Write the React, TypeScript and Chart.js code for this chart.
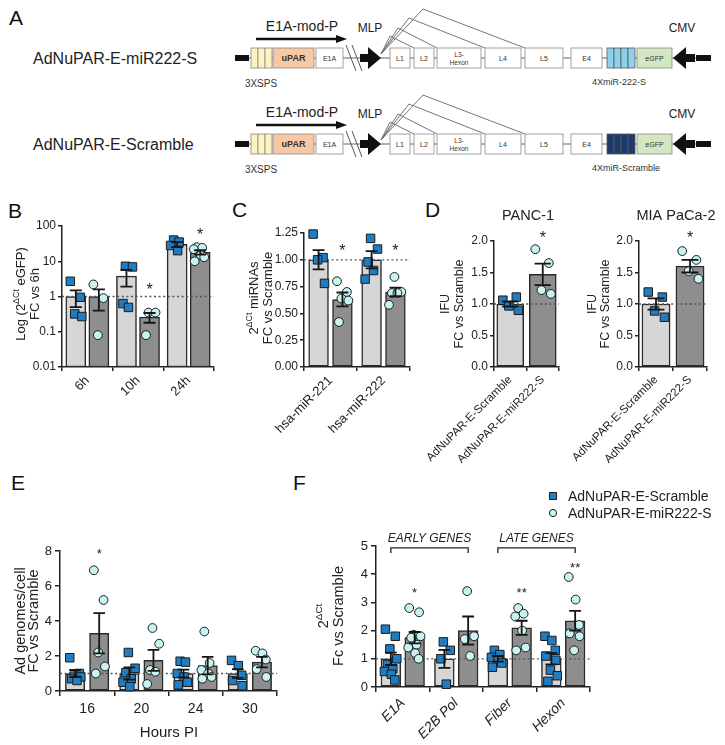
import React, { useEffect, useRef } from 'react';
import { Chart, registerables } from 'chart.js';

Chart.register(...registerables);

const FONT = "'Liberation Sans', Arial, Helvetica, sans-serif";
const INK = '#222222';
const LIGHT = '#d6d6d6';
const DARK = '#8e8e8e';
const EDGE = '#2a2a2a';
const BLUE = '#1f7dc3';
const CYAN = '#c8f3f3';
const MARK_EDGE = '#1b1b1b';

// ---------------- Panel B ----------------
const B_CATEGORIES = ['6h', '10h', '24h'];
const B_SCRAMBLE_MEAN = [1.0, 3.8, 30];
const B_SCRAMBLE_SEM = [0.5, 1.9, 5];
const B_MIR_MEAN = [1.0, 0.26, 18];
const B_MIR_SEM = [0.6, 0.08, 2.5];
const B_SCRAMBLE_POINTS = [[2.7, 0.95, 0.32, 0.27], [7.2, 6.9, 0.63, 0.49], [40, 35, 28, 20]];
const B_MIR_POINTS = [[2.2, 0.9, 0.08], [0.35, 0.35, 0.08], [25, 24, 22, 15, 13, 10]];
const B_Y_TICKS = [0.01, 0.1, 1, 10, 100];
const B_Y_LABELS = ['0.01', '0.1', '1', '10', '100'];

// ---------------- Panel C ----------------
const C_CATEGORIES = ['hsa-miR-221', 'hsa-miR-222'];
const C_SCRAMBLE_MEAN = [1.0, 1.0];
const C_SCRAMBLE_SEM = [0.09, 0.08];
const C_MIR_MEAN = [0.63, 0.7];
const C_MIR_SEM = [0.065, 0.04];
const C_SCRAMBLE_POINTS = [[1.24, 1.02, 1.0, 0.78], [1.2, 1.1, 0.98, 0.9, 0.82]];
const C_MIR_POINTS = [[0.8, 0.7, 0.64, 0.62, 0.42], [0.84, 0.7, 0.69, 0.69, 0.58]];
const C_Y_TICKS = [0, 0.25, 0.5, 0.75, 1.0, 1.25];
const C_Y_LABELS = ['0.00', '0.25', '0.50', '0.75', '1.00', '1.25'];

// ---------------- Panel D ----------------
const D_CATEGORIES = ['AdNuPAR-E-Scramble', 'AdNuPAR-E-miR222-S'];
const D_PANC_MEAN = [1.0, 1.47];
const D_PANC_SEM = [0.04, 0.17];
const D_PANC_SCRAMBLE_POINTS = [1.06, 1.11, 0.97, 0.9];
const D_PANC_MIR_POINTS = [1.87, 1.65, 1.22, 1.16];
const D_MIA_MEAN = [1.0, 1.6];
const D_MIA_SEM = [0.09, 0.1];
const D_MIA_SCRAMBLE_POINTS = [1.19, 1.11, 0.89, 0.79];
const D_MIA_MIR_POINTS = [1.84, 1.7, 1.52, 1.4];
const D_Y_TICKS = [0, 0.5, 1, 1.5, 2];
const D_Y_LABELS = ['0.0', '0.5', '1.0', '1.5', '2.0'];

// ---------------- Panel E ----------------
const E_CATEGORIES = ['16', '20', '24', '30'];
const E_SCRAMBLE_MEAN = [1.0, 1.0, 1.0, 1.0];
const E_SCRAMBLE_SEM = [0.2, 0.35, 0.22, 0.25];
const E_MIR_MEAN = [3.3, 1.75, 1.45, 1.65];
const E_MIR_SEM = [1.15, 0.6, 0.5, 0.3];
const E_SCRAMBLE_POINTS = [
  [1.9, 1.0, 0.85, 0.8, 0.7, 0.6],
  [2.2, 1.3, 1.05, 0.7, 0.5, 0.25],
  [1.7, 1.65, 1.0, 0.8, 0.5, 0.35],
  [1.75, 1.45, 0.9, 0.6, 0.3],
];
const E_MIR_POINTS = [
  [6.9, 5.2, 2.2, 1.4, 1.0],
  [3.6, 2.7, 1.2, 1.1, 0.4],
  [3.4, 1.6, 1.2, 1.0, 0.8, 0.7],
  [2.3, 2.15, 1.8, 1.25, 0.8],
];
const E_Y_TICKS = [0, 2, 4, 6, 8];
const E_Y_LABELS = ['0', '2', '4', '6', '8'];

// ---------------- Panel F ----------------
const F_CATEGORIES = ['E1A', 'E2B Pol', 'Fiber', 'Hexon'];
const F_SCRAMBLE_MEAN = [1.0, 1.0, 1.0, 1.0];
const F_SCRAMBLE_SEM = [0.22, 0.32, 0.1, 0.2];
const F_MIR_MEAN = [1.75, 2.0, 2.1, 2.35];
const F_MIR_SEM = [0.2, 0.5, 0.25, 0.35];
const F_SCRAMBLE_POINTS = [
  [2.05, 1.8, 1.35, 1.0, 0.8, 0.65, 0.55, 0.45, 0.25],
  [1.6, 1.3, 1.0, 0.1],
  [1.3, 1.15, 1.05, 0.95, 0.85, 0.7],
  [1.8, 1.65, 1.3, 1.1, 0.95, 0.6, 0.4, 0.2],
];
const F_MIR_POINTS = [
  [2.8, 2.65, 1.85, 1.8, 1.75, 1.5, 1.4, 1.2, 1.0],
  [3.4, 1.8, 1.7, 1.1],
  [2.8, 2.6, 2.5, 2.0, 1.4, 1.3],
  [3.9, 3.1, 2.2, 1.9, 1.8, 1.3],
];
const F_Y_TICKS = [0, 1, 2, 3, 4, 5];
const F_Y_LABELS = ['0', '1', '2', '3', '4', '5'];
const F_LEGEND = ['AdNuPAR-E-Scramble', 'AdNuPAR-E-miR222-S'];

// horizontal spread of the dots inside a bar (fraction of half bar width)
const JIT = [-0.55, 0.45, -0.1, 0.6, -0.35, 0.2, -0.65, 0.05, 0.4];

type Seg = { t: string; sup?: boolean };
type PanelSpec = {
  box: [number, number, number, number];
  plot: [number, number, number, number];
  cats: string[];
  log?: boolean;
  yMin: number;
  yMax: number;
  yTicks: number[];
  yLabels: string[];
  yFont: number;
  yPad: number;
  tickLen: number;
  xFont: number;
  xItalic?: boolean;
  xRot: number;
  xPad: number;
  bars: { data: number[]; sem: number[]; color: string | string[] }[];
  catPct: number;
  barPct: number;
  sq: { at: number; vals: number[] }[];
  ci: { at: number; vals: number[] }[];
  ref?: number;
  stars: { at: number; y: number; t: string }[];
  starSize: number;
  ytitle: { x: number; segs: Seg[] }[];
  ytFont: number;
  ytCenter: number;
  texts?: { x: number; y: number; t: string; size: number; italic?: boolean; align?: CanvasTextAlign }[];
  brackets?: { x0: number; x1: number; yTop: number; yLeg: number; yText: number; label: string }[];
  legend?: { x: number; y: number[]; items: string[] };
};

const G = 0.89;

const SPEC_B: PanelSpec = {
  box: [0, 195, 225, 230],
  plot: [62, 226, 214, 367],
  cats: B_CATEGORIES,
  log: true,
  yMin: 0.01,
  yMax: 100,
  yTicks: B_Y_TICKS,
  yLabels: B_Y_LABELS,
  yFont: 12,
  yPad: 2,
  tickLen: 4,
  xFont: 13,
  xRot: 45,
  xPad: 2,
  bars: [
    { data: B_SCRAMBLE_MEAN, sem: B_SCRAMBLE_SEM, color: LIGHT },
    { data: B_MIR_MEAN, sem: B_MIR_SEM, color: DARK },
  ],
  catPct: 0.91,
  barPct: 0.87,
  sq: B_SCRAMBLE_POINTS.map((vals, i) => ({ at: i - 0.91 / 4, vals })),
  ci: B_MIR_POINTS.map((vals, i) => ({ at: i + 0.91 / 4, vals })),
  ref: 1,
  stars: [
    { at: 1 + 0.91 / 4, y: 2.0, t: '*' },
    { at: 2 + 0.91 / 4, y: 72, t: '*' },
  ],
  starSize: 16,
  ytitle: [
    { x: 20, segs: [{ t: 'Log (2' }, { t: 'ΔCt', sup: true }, { t: ' eGFP)' }] },
    { x: 34, segs: [{ t: 'FC vs 6h' }] },
  ],
  ytFont: 13,
  ytCenter: 294,
};

const SPEC_C: PanelSpec = {
  box: [225, 195, 195, 255],
  plot: [304, 233, 410, 367],
  cats: C_CATEGORIES,
  yMin: 0,
  yMax: 1.25,
  yTicks: C_Y_TICKS,
  yLabels: C_Y_LABELS,
  yFont: 12,
  yPad: 2,
  tickLen: 4,
  xFont: 13,
  xRot: 45,
  xPad: 2,
  bars: [
    { data: C_SCRAMBLE_MEAN, sem: C_SCRAMBLE_SEM, color: LIGHT },
    { data: C_MIR_MEAN, sem: C_MIR_SEM, color: DARK },
  ],
  catPct: 0.9,
  barPct: 0.83,
  sq: C_SCRAMBLE_POINTS.map((vals, i) => ({ at: i - 0.9 / 4, vals })),
  ci: C_MIR_POINTS.map((vals, i) => ({ at: i + 0.9 / 4, vals })),
  ref: 1,
  stars: [
    { at: 0 + 0.9 / 4, y: 1.12, t: '*' },
    { at: 1 + 0.9 / 4, y: 1.12, t: '*' },
  ],
  starSize: 16,
  ytitle: [
    { x: 253, segs: [{ t: '2' }, { t: 'ΔCt', sup: true }, { t: ' miRNAs' }] },
    { x: 267, segs: [{ t: 'FC vs Scramble' }] },
  ],
  ytFont: 13,
  ytCenter: 298,
};

function dSpec(
  left: number,
  width: number,
  plot: [number, number, number, number],
  mean: number[],
  sem: number[],
  sPts: number[],
  mPts: number[],
  title: string,
  titleX: number,
  tx1: number,
  tx2: number,
): PanelSpec {
  return {
    box: [left, 195, width, 280],
    plot,
    cats: D_CATEGORIES,
    yMin: 0,
    yMax: 2,
    yTicks: D_Y_TICKS,
    yLabels: D_Y_LABELS,
    yFont: 12,
    yPad: 2,
    tickLen: 4,
    xFont: 11.5,
    xRot: 45,
    xPad: 2,
    bars: [{ data: mean, sem, color: [LIGHT, DARK] }],
    catPct: 1,
    barPct: 0.83,
    sq: [{ at: 0, vals: sPts }],
    ci: [{ at: 1, vals: mPts }],
    ref: 1,
    stars: [{ at: 1, y: 2.11, t: '*' }],
    starSize: 16,
    ytitle: [
      { x: tx1, segs: [{ t: 'IFU' }] },
      { x: tx2, segs: [{ t: 'FC vs Scramble' }] },
    ],
    ytFont: 12.5,
    ytCenter: 304,
    texts: [{ x: titleX, y: 220, t: title, size: 14.5, align: 'center' }],
  };
}

const SPEC_D1 = dSpec(420, 150, [494, 241, 559, 367], D_PANC_MEAN, D_PANC_SEM, D_PANC_SCRAMBLE_POINTS, D_PANC_MIR_POINTS, 'PANC-1', 528, 444, 458);
const SPEC_D2 = dSpec(570, 155, [639, 241, 707, 367], D_MIA_MEAN, D_MIA_SEM, D_MIA_SCRAMBLE_POINTS, D_MIA_MIR_POINTS, 'MIA PaCa-2', 676, 591, 604);

const SPEC_E: PanelSpec = {
  box: [0, 465, 290, 280],
  plot: [60, 551, 277, 691],
  cats: E_CATEGORIES,
  yMin: 0,
  yMax: 8,
  yTicks: E_Y_TICKS,
  yLabels: E_Y_LABELS,
  yFont: 13,
  yPad: 3,
  tickLen: 5,
  xFont: 14,
  xRot: 0,
  xPad: 5,
  bars: [
    { data: E_SCRAMBLE_MEAN, sem: E_SCRAMBLE_SEM, color: LIGHT },
    { data: E_MIR_MEAN, sem: E_MIR_SEM, color: DARK },
  ],
  catPct: G,
  barPct: 0.8,
  sq: E_SCRAMBLE_POINTS.map((vals, i) => ({ at: i - G / 4, vals })),
  ci: E_MIR_POINTS.map((vals, i) => ({ at: i + G / 4, vals })),
  ref: 1,
  stars: [{ at: 0 + G / 4, y: 8.0, t: '*' }],
  starSize: 13,
  ytitle: [
    { x: 19.5, segs: [{ t: 'Ad genomes/cell' }] },
    { x: 33, segs: [{ t: 'FC vs Scramble' }] },
  ],
  ytFont: 14.5,
  ytCenter: 621,
  texts: [{ x: 169, y: 737, t: 'Hours PI', size: 15, align: 'center' }],
};

const SPEC_F: PanelSpec = {
  box: [290, 465, 435, 280],
  plot: [376, 546, 590, 687],
  cats: F_CATEGORIES,
  yMin: 0,
  yMax: 5,
  yTicks: F_Y_TICKS,
  yLabels: F_Y_LABELS,
  yFont: 13,
  yPad: 3,
  tickLen: 5,
  xFont: 14,
  xItalic: true,
  xRot: 45,
  xPad: 3,
  bars: [
    { data: F_SCRAMBLE_MEAN, sem: F_SCRAMBLE_SEM, color: LIGHT },
    { data: F_MIR_MEAN, sem: F_MIR_SEM, color: DARK },
  ],
  catPct: G,
  barPct: 0.83,
  sq: F_SCRAMBLE_POINTS.map((vals, i) => ({ at: i - G / 4, vals })),
  ci: F_MIR_POINTS.map((vals, i) => ({ at: i + G / 4, vals })),
  ref: 1,
  stars: [
    { at: 0 + G / 4, y: 3.44, t: '*' },
    { at: 2 + G / 4, y: 3.44, t: '**' },
    { at: 3 + G / 4, y: 4.36, t: '**' },
  ],
  starSize: 13,
  ytitle: [
    { x: 323, segs: [{ t: '2' }, { t: 'ΔCt', sup: true }] },
    { x: 338, segs: [{ t: 'Fc vs Scramble' }] },
  ],
  ytFont: 14.5,
  ytCenter: 616,
  brackets: [
    { x0: 0 - G / 4, x1: 1 + G / 4, yTop: 4.93, yLeg: 4.75, yText: 5.14, label: 'EARLY GENES' },
    { x0: 2 - G / 4, x1: 3 + G / 4, yTop: 4.93, yLeg: 4.75, yText: 5.14, label: 'LATE GENES' },
  ],
  legend: { x: 553, y: [496, 513], items: F_LEGEND },
};

function fnt(size: number, italic?: boolean, bold?: boolean) {
  return `${italic ? 'italic ' : ''}${bold ? 'bold ' : ''}${size}px ${FONT}`;
}

function buildChart(canvas: HTMLCanvasElement, p: PanelSpec) {
  const [bl, bt, bw, bh] = p.box;
  const [pl, pt, pr, pb] = p.plot;
  const YW = pl - bl;
  const XH = bt + bh - pb;
  const padding = { left: 0, top: pt - bt, right: bl + bw - pr, bottom: 0 };
  const n = p.cats.length;
  const nb = p.bars.length;
  const halfW = (p.catPct * p.barPct) / (2 * nb);
  const thickness = ((p.catPct * p.barPct) / nb) * ((pr - pl) / n);
  const offs = nb === 2 ? [-p.catPct / 4, p.catPct / 4] : [0];
  const spread = (groups: { at: number; vals: number[] }[]) => {
    const out: { x: number; y: number }[] = [];
    groups.forEach((g, k) =>
      g.vals.forEach((v, j) => out.push({ x: g.at + JIT[(j + 2 * k) % JIT.length] * halfW, y: v })),
    );
    return out;
  };

  const axisGrid = {
    display: true,
    drawOnChartArea: false,
    drawTicks: true,
    tickLength: p.tickLen,
    color: INK,
    lineWidth: 1.5,
  };
  const axisBorder = { display: true, color: INK, width: 1.5 };

  const datasets: any[] = [
    ...p.bars.map((b, k) => ({
      type: 'bar',
      data: b.data.map((v, i) => ({ x: i + offs[k], y: v })),
      backgroundColor: b.color,
      borderColor: EDGE,
      borderWidth: 1.5,
      borderSkipped: false,
      grouped: false,
      barThickness: thickness,
      order: 2,
    })),
    {
      type: 'scatter',
      data: spread(p.sq),
      pointStyle: 'rect',
      pointRadius: 6,
      backgroundColor: BLUE,
      borderColor: MARK_EDGE,
      borderWidth: 1,
      order: 1,
      clip: false,
    },
    {
      type: 'scatter',
      data: spread(p.ci),
      pointStyle: 'circle',
      pointRadius: 4.4,
      backgroundColor: CYAN,
      borderColor: MARK_EDGE,
      borderWidth: 1,
      order: 1,
      clip: false,
    },
  ];

  const deco = {
    id: 'deco',
    afterDatasetDraw(chart: any, args: any) {
      if (args.index === 0 && p.ref != null) {
        const { ctx, chartArea: a } = chart;
        const y = chart.scales.y.getPixelForValue(p.ref);
        ctx.save();
        ctx.setLineDash([2, 2.6]);
        ctx.strokeStyle = '#555';
        ctx.lineWidth = 1.3;
        ctx.beginPath();
        ctx.moveTo(a.left, y);
        ctx.lineTo(a.right, y);
        ctx.stroke();
        ctx.restore();
      }
    },
    afterDatasetsDraw(chart: any) {
      const ctx: CanvasRenderingContext2D = chart.ctx;
      const ys = chart.scales.y;
      const xs = chart.scales.x;
      ctx.save();
      // error bars (mean ± SEM)
      ctx.strokeStyle = '#151515';
      ctx.lineWidth = 1.8;
      p.bars.forEach((b, i) => {
        const meta = chart.getDatasetMeta(i);
        meta.data.forEach((el: any, j: number) => {
          const m = b.data[j];
          const s = b.sem[j];
          const yT = ys.getPixelForValue(m + s);
          const yB = ys.getPixelForValue(Math.max(m - s, ys.min));
          const hw = el.width * 0.3;
          ctx.beginPath();
          ctx.moveTo(el.x, yT);
          ctx.lineTo(el.x, yB);
          ctx.moveTo(el.x - hw, yT);
          ctx.lineTo(el.x + hw, yT);
          ctx.moveTo(el.x - hw, yB);
          ctx.lineTo(el.x + hw, yB);
          ctx.stroke();
        });
      });
      // significance stars
      ctx.fillStyle = INK;
      ctx.font = fnt(p.starSize);
      ctx.textAlign = 'center';
      ctx.textBaseline = 'alphabetic';
      p.stars.forEach((s) => {
        ctx.fillText(s.t, xs.getPixelForValue(s.at), ys.getPixelForValue(s.y) + 0.575 * p.starSize);
      });
      // y titles (rotated, with superscripts)
      p.ytitle.forEach((line) => {
        const size = p.ytFont;
        ctx.save();
        ctx.translate(line.x - bl, p.ytCenter - bt);
        ctx.rotate(-Math.PI / 2);
        const parts = line.segs.map((sg) => {
          const fs = sg.sup ? size * 0.68 : size;
          ctx.font = fnt(fs);
          return { sg, fs, w: ctx.measureText(sg.t).width };
        });
        const tot = parts.reduce((a, q) => a + q.w, 0);
        let cx = -tot / 2;
        ctx.textAlign = 'left';
        for (const q of parts) {
          ctx.font = fnt(q.fs);
          ctx.fillText(q.sg.t, cx, size * 0.36 + (q.sg.sup ? -size * 0.42 : 0));
          cx += q.w;
        }
        ctx.restore();
      });
      // free texts
      (p.texts || []).forEach((t) => {
        ctx.font = fnt(t.size, t.italic);
        ctx.textAlign = t.align || 'left';
        ctx.fillText(t.t, t.x - bl, t.y - bt);
      });
      // brackets
      (p.brackets || []).forEach((br) => {
        const x0 = xs.getPixelForValue(br.x0);
        const x1 = xs.getPixelForValue(br.x1);
        const yT = ys.getPixelForValue(br.yTop);
        const yL = ys.getPixelForValue(br.yLeg);
        ctx.strokeStyle = INK;
        ctx.lineWidth = 1.3;
        ctx.beginPath();
        ctx.moveTo(x0, yL);
        ctx.lineTo(x0, yT);
        ctx.lineTo(x1, yT);
        ctx.lineTo(x1, yL);
        ctx.stroke();
        ctx.font = fnt(12, true);
        ctx.textAlign = 'center';
        ctx.fillText(br.label, (x0 + x1) / 2, ys.getPixelForValue(br.yText));
      });
      // legend
      if (p.legend) {
        const lg = p.legend;
        lg.items.forEach((item, k) => {
          const cx = lg.x - bl;
          const cy = lg.y[k] - bt;
          ctx.fillStyle = k === 0 ? BLUE : CYAN;
          ctx.strokeStyle = MARK_EDGE;
          ctx.lineWidth = 1;
          ctx.beginPath();
          if (k === 0) ctx.rect(cx - 3.5, cy - 3.5, 7, 7);
          else ctx.arc(cx, cy, 3.6, 0, Math.PI * 2);
          ctx.fill();
          ctx.stroke();
          ctx.fillStyle = INK;
          ctx.font = fnt(14);
          ctx.textAlign = 'left';
          ctx.fillText(item, cx + 15, cy + 5);
        });
      }
      ctx.restore();
    },
  };

  return new Chart(canvas, {
    type: 'bar',
    data: { datasets },
    options: {
      responsive: false,
      maintainAspectRatio: false,
      animation: false,
      devicePixelRatio: 1,
      events: [],
      layout: { padding, autoPadding: false } as any,
      plugins: { legend: { display: false }, tooltip: { enabled: false } },
      scales: {
        x: {
          type: 'linear',
          min: -0.5,
          max: n - 0.5,
          offset: false,
          grid: axisGrid,
          border: axisBorder,
          ticks: {
            autoSkip: false,
            minRotation: p.xRot,
            maxRotation: p.xRot,
            padding: p.xPad,
            color: INK,
            font: { size: p.xFont, style: p.xItalic ? 'italic' : 'normal', family: FONT },
            callback: (_v: any, i: number) => p.cats[i] ?? '',
          },
          afterBuildTicks: (s: any) => {
            s.ticks = p.cats.map((_c, i) => ({ value: i }));
          },
          afterFit: (s: any) => {
            s.height = XH;
            s.paddingLeft = 0;
            s.paddingRight = 0;
          },
        },
        y: {
          type: p.log ? 'logarithmic' : 'linear',
          min: p.yMin,
          max: p.yMax,
          grid: axisGrid,
          border: axisBorder,
          ticks: {
            padding: p.yPad,
            color: INK,
            font: { size: p.yFont, family: FONT },
            callback: (_v: any, i: number) => p.yLabels[i] ?? '',
          },
          afterBuildTicks: (s: any) => {
            s.ticks = p.yTicks.map((v) => ({ value: v }));
          },
          afterFit: (s: any) => {
            s.width = YW;
            s.paddingTop = 0;
            s.paddingBottom = 0;
          },
        },
      } as any,
    },
    plugins: [deco as any],
  } as any);
}

function ChartPanel({ spec }: { spec: PanelSpec }) {
  const ref = useRef<HTMLCanvasElement>(null);
  useEffect(() => {
    const ch = buildChart(ref.current as HTMLCanvasElement, spec);
    return () => ch.destroy();
  }, [spec]);
  const [l, t, w, h] = spec.box;
  return (
    <canvas
      ref={ref}
      width={w}
      height={h}
      style={{ position: 'absolute', left: l, top: t, width: w, height: h }}
    />
  );
}

// ---------------- Panel A (schematic) ----------------
const A_ROWS = [
  { cy: 58, name: 'AdNuPAR-E-miR222-S', miR: '4XmiR-222-S', miRFill: '#8fd1ec' },
  { cy: 144, name: 'AdNuPAR-E-Scramble', miR: '4XmiR-Scramble', miRFill: '#1e3a6a' },
];
const A_LATE_BOXES: [string, number, number][] = [
  ['L1', 390, 410],
  ['L2', 414, 434],
  ['L3', 437, 481],
  ['L4', 485, 521],
  ['L5', 525, 563],
  ['E4', 571, 602],
];
const A_SPLICE: [number, number, number][] = [
  [390, -22, 414],
  [398, -30, 437],
  [409, -40, 485],
  [423, -49, 525],
];

function SchemRow({ cy, name, miR, miRFill }: { cy: number; name: string; miR: string; miRFill: string }) {
  const top = cy - 10;
  const boxStroke = '#8a8a8a';
  return (
    <g>
      <text x={33} y={cy + 6} fontSize={16} fill={INK}>
        {name}
      </text>
      <text x={302} y={cy - 27} fontSize={14} textAnchor="middle" fill={INK}>
        E1A-mod-P
      </text>
      <line x1={256} y1={cy - 19} x2={338} y2={cy - 19} stroke="#111" strokeWidth={2.5} />
      <polygon points={`336,${cy - 23} 347,${cy - 19} 336,${cy - 15}`} fill="#111" />
      <text x={370} y={cy - 26} fontSize={12} textAnchor="middle" fill={INK}>
        MLP
      </text>
      <text x={682} y={cy - 26} fontSize={12} textAnchor="middle" fill={INK}>
        CMV
      </text>
      <line x1={249} y1={cy} x2={696} y2={cy} stroke="#666" strokeWidth={1} />
      {A_SPLICE.map(([ax, ay, ex], k) => (
        <polyline
          key={k}
          points={`381,${cy - 4} ${ax},${cy + ay} ${ex},${top}`}
          fill="none"
          stroke="#666"
          strokeWidth={0.9}
        />
      ))}
      <rect x={235} y={cy - 3} width={14} height={6} fill="#111" />
      {[0, 1, 2].map((k) => (
        <rect key={k} x={251 + 7 * k} y={top} width={7} height={20} fill="#fcf2c2" stroke={boxStroke} strokeWidth={0.8} />
      ))}
      <rect x={273} y={top} width={41} height={20} fill="#f8c8a2" stroke={boxStroke} strokeWidth={0.8} />
      <text x={293.5} y={cy + 3} fontSize={9} fontWeight="bold" textAnchor="middle" fill="#333">
        uPAR
      </text>
      <rect x={316} y={top} width={27} height={20} fill="#fff" stroke={boxStroke} strokeWidth={0.8} />
      <text x={329.5} y={cy + 2.5} fontSize={7} textAnchor="middle" fill="#333">
        E1A
      </text>
      <line x1={346} y1={cy - 13} x2={356} y2={cy + 13} stroke="#555" strokeWidth={1} />
      <line x1={352} y1={cy - 13} x2={362} y2={cy + 13} stroke="#555" strokeWidth={1} />
      <polygon
        points={`360,${cy - 4} 368,${cy - 4} 368,${cy - 11} 381,${cy} 368,${cy + 11} 368,${cy + 4} 360,${cy + 4}`}
        fill="#111"
      />
      {A_LATE_BOXES.map(([lab, x0, x1]) => (
        <g key={lab}>
          <rect x={x0} y={top} width={x1 - x0} height={20} fill="#fff" stroke={boxStroke} strokeWidth={0.8} />
          {lab === 'L3' ? (
            <>
              <text x={(x0 + x1) / 2} y={cy - 1} fontSize={6.5} textAnchor="middle" fill="#333">
                L3-
              </text>
              <text x={(x0 + x1) / 2} y={cy + 6.5} fontSize={6.5} textAnchor="middle" fill="#333">
                Hexon
              </text>
            </>
          ) : (
            <text x={(x0 + x1) / 2} y={cy + 2.5} fontSize={7} textAnchor="middle" fill="#333">
              {lab}
            </text>
          )}
        </g>
      ))}
      {[0, 1, 2, 3].map((k) => (
        <rect key={k} x={607 + 7 * k} y={top} width={7} height={20} fill={miRFill} stroke="#5a5a5a" strokeWidth={0.8} />
      ))}
      <rect x={637} y={top} width={35} height={20} fill="#d4e7c0" stroke={boxStroke} strokeWidth={0.8} />
      <text x={654.5} y={cy + 2.5} fontSize={7} textAnchor="middle" fill="#333">
        eGFP
      </text>
      <polygon
        points={`673,${cy} 686,${cy - 11} 686,${cy - 4} 695,${cy - 4} 695,${cy + 4} 686,${cy + 4} 686,${cy + 11}`}
        fill="#111"
      />
      <rect x={696} y={cy - 3} width={15} height={6} fill="#111" />
      <text x={261} y={cy + 29} fontSize={10} textAnchor="middle" fill="#333">
        3XSPS
      </text>
      <text x={592} y={cy + 27} fontSize={9} fill="#333">
        {miR}
      </text>
    </g>
  );
}

const LETTERS: [string, number, number][] = [
  ['A', 9, 25],
  ['B', 8, 218],
  ['C', 232, 217],
  ['D', 425, 217],
  ['E', 11, 490],
  ['F', 293, 490],
];

export default function App() {
  return (
    <div
      style={{
        position: 'absolute',
        left: 0,
        top: 0,
        width: 725,
        height: 745,
        background: '#fff',
        overflow: 'hidden',
        fontFamily: FONT,
      }}
    >
      <svg width={725} height={745} style={{ position: 'absolute', left: 0, top: 0 }} fontFamily={FONT}>
        {LETTERS.map(([t, x, y]) => (
          <text key={t} x={x} y={y} fontSize={21} fill="#111">
            {t}
          </text>
        ))}
        {A_ROWS.map((r) => (
          <SchemRow key={r.name} {...r} />
        ))}
      </svg>
      <ChartPanel spec={SPEC_B} />
      <ChartPanel spec={SPEC_C} />
      <ChartPanel spec={SPEC_D1} />
      <ChartPanel spec={SPEC_D2} />
      <ChartPanel spec={SPEC_E} />
      <ChartPanel spec={SPEC_F} />
    </div>
  );
}
